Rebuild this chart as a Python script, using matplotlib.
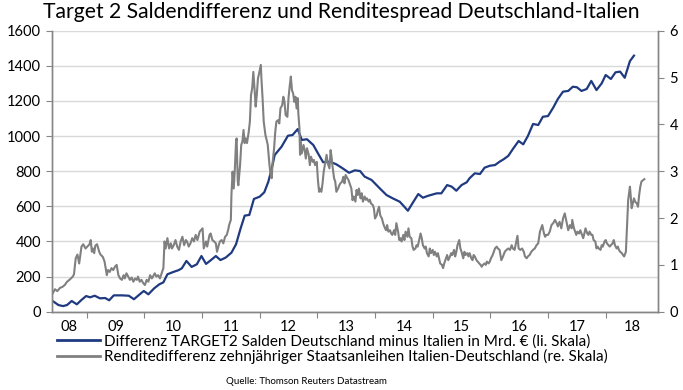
import matplotlib
matplotlib.use("Agg")
import matplotlib.pyplot as plt
from matplotlib.lines import Line2D

plt.rcParams['font.family'] = ['Lato', 'DejaVu Sans']

# TARGET2 balance difference Germany minus Italy, bn EUR (left axis)
t2_dates = [
    2008.41, 2008.51, 2008.59, 2008.66, 2008.74, 2008.83, 2008.91, 2008.99,
    2009.06, 2009.14, 2009.23, 2009.32, 2009.39, 2009.47, 2009.61, 2009.73, 2009.82, 2009.92, 2009.99,
    2010.07, 2010.17, 2010.26, 2010.33, 2010.40, 2010.50, 2010.59, 2010.65, 2010.73, 2010.82, 2010.91, 2010.99,
    2011.07, 2011.14, 2011.24, 2011.32, 2011.41, 2011.51, 2011.59, 2011.67, 2011.74, 2011.82, 2011.90,
    2012.00, 2012.08, 2012.15, 2012.21, 2012.26, 2012.38, 2012.49, 2012.57, 2012.66, 2012.73, 2012.82, 2012.93,
    2013.01, 2013.10, 2013.22, 2013.33, 2013.44, 2013.55, 2013.65, 2013.74, 2013.82, 2013.94,
    2014.08, 2014.20, 2014.31, 2014.43, 2014.57, 2014.66, 2014.75, 2014.83, 2014.92,
    2015.07, 2015.15, 2015.25, 2015.33, 2015.41, 2015.50, 2015.59, 2015.64, 2015.73, 2015.82, 2015.90, 2015.99,
    2016.08, 2016.16, 2016.23, 2016.31, 2016.39, 2016.49, 2016.57, 2016.65, 2016.74, 2016.83, 2016.91,
    2017.00, 2017.09, 2017.17, 2017.26, 2017.35, 2017.43, 2017.50, 2017.58, 2017.67, 2017.75, 2017.84, 2017.93,
    2018.00, 2018.09, 2018.17, 2018.25, 2018.33, 2018.42, 2018.49,
]
t2_values = [
    61, 38, 32, 38, 61, 42, 67, 89,
    82, 91, 76, 78, 65, 93, 93, 91, 71, 99, 118,
    99, 133, 156, 167, 213, 226, 236, 247, 289, 255, 270, 317,
    272, 290, 317, 294, 308, 336, 384, 475, 547, 551, 642,
    655, 680, 740, 816, 892, 940, 1002, 1006, 1040, 978, 982, 949,
    902, 851, 854, 839, 816, 791, 805, 801, 769, 750,
    703, 664, 645, 626, 575, 623, 670, 649, 660,
    674, 674, 721, 712, 689, 721, 737, 760, 788, 784, 820, 831,
    835, 854, 868, 887, 926, 972, 953, 1000, 1069, 1063, 1110,
    1114, 1162, 1211, 1253, 1257, 1281, 1278, 1257, 1268, 1314, 1262, 1300,
    1348, 1325, 1363, 1367, 1332, 1427, 1458,
]

# 10y yield spread Italy - Germany, pct points (right axis)
spread_2008 = [
    (2008.41, 0.39), (2008.45, 0.48), (2008.49, 0.44), (2008.54, 0.51), (2008.58, 0.53),
    (2008.62, 0.57), (2008.66, 0.64), (2008.71, 0.69), (2008.76, 0.75), (2008.78, 0.80),
    (2008.81, 1.14), (2008.84, 1.22), (2008.87, 1.03), (2008.91, 1.39), (2008.94, 1.44),
    (2008.98, 1.35),
]
spread_2009 = [
    (2009.01, 1.39), (2009.05, 1.44), (2009.07, 1.53), (2009.09, 1.28), (2009.11, 1.35),
    (2009.13, 1.25), (2009.15, 1.41), (2009.18, 1.44), (2009.22, 1.27), (2009.24, 1.22),
    (2009.28, 1.17), (2009.31, 1.07), (2009.33, 0.93), (2009.35, 0.78), (2009.37, 0.89),
    (2009.40, 0.85), (2009.43, 0.93), (2009.46, 0.89), (2009.49, 0.96), (2009.52, 1.00),
    (2009.55, 0.78), (2009.58, 0.71), (2009.61, 0.68), (2009.64, 0.78), (2009.66, 0.71),
    (2009.69, 0.82), (2009.72, 0.75), (2009.75, 0.68), (2009.78, 0.73), (2009.81, 0.64),
    (2009.84, 0.71), (2009.87, 0.68), (2009.89, 0.75), (2009.92, 0.64), (2009.95, 0.68),
    (2009.98, 0.61),
]
spread_2010 = [
    (2010.01, 0.57), (2010.04, 0.68), (2010.07, 0.64), (2010.10, 0.78), (2010.13, 0.71),
    (2010.15, 0.75), (2010.18, 0.82), (2010.21, 0.75), (2010.24, 0.78), (2010.27, 0.71),
    (2010.30, 0.82), (2010.33, 0.93), (2010.35, 1.50), (2010.37, 1.35), (2010.40, 1.57),
    (2010.43, 1.35), (2010.46, 1.46), (2010.48, 1.35), (2010.51, 1.42), (2010.54, 1.53),
    (2010.57, 1.39), (2010.60, 1.32), (2010.63, 1.50), (2010.66, 1.60), (2010.69, 1.42),
    (2010.72, 1.53), (2010.74, 1.50), (2010.77, 1.39), (2010.80, 1.46), (2010.83, 1.57),
    (2010.86, 1.50), (2010.89, 1.64), (2010.92, 1.53), (2010.96, 1.71),
]
spread_2011 = [
    (2011.01, 1.78), (2011.03, 1.35), (2011.07, 1.50), (2011.09, 1.39), (2011.13, 1.64),
    (2011.15, 1.67), (2011.18, 1.53), (2011.21, 1.50), (2011.24, 1.46), (2011.26, 1.28),
    (2011.29, 1.42), (2011.31, 1.50), (2011.34, 1.53), (2011.37, 1.46), (2011.40, 1.60),
    (2011.43, 1.64), (2011.46, 1.78), (2011.47, 1.85), (2011.50, 1.96), (2011.51, 2.49),
    (2011.53, 2.99), (2011.55, 2.63), (2011.57, 3.06), (2011.59, 3.63), (2011.60, 3.70),
    (2011.62, 2.78), (2011.63, 2.70), (2011.66, 3.13), (2011.68, 3.56), (2011.70, 3.63),
    (2011.72, 3.88), (2011.74, 3.60), (2011.76, 3.70), (2011.78, 3.60), (2011.81, 3.84),
    (2011.83, 4.06), (2011.85, 4.63), (2011.87, 4.77), (2011.89, 5.12), (2011.91, 4.77),
    (2011.93, 4.38), (2011.95, 4.63), (2011.97, 4.98), (2011.99, 5.09),
]
spread_2012 = [
    (2012.02, 5.27), (2012.03, 4.98), (2012.05, 4.56), (2012.07, 4.06), (2012.10, 3.77),
    (2012.12, 3.67), (2012.14, 3.56), (2012.17, 3.13), (2012.19, 2.92), (2012.21, 2.85),
    (2012.22, 3.13), (2012.25, 3.49), (2012.27, 3.84), (2012.29, 4.06), (2012.32, 4.09),
    (2012.34, 4.02), (2012.36, 4.34), (2012.39, 4.41), (2012.41, 4.59), (2012.43, 4.48),
    (2012.45, 4.20), (2012.48, 4.16), (2012.50, 4.56), (2012.52, 4.81), (2012.54, 5.02),
    (2012.56, 4.73), (2012.58, 4.66), (2012.60, 4.48), (2012.62, 4.59), (2012.64, 4.34),
    (2012.66, 4.56), (2012.67, 4.24), (2012.69, 3.91), (2012.70, 3.35), (2012.71, 3.63),
    (2012.73, 3.38), (2012.76, 3.56), (2012.78, 3.45), (2012.80, 3.27), (2012.82, 3.49),
    (2012.85, 3.35), (2012.87, 3.13), (2012.89, 3.31), (2012.92, 3.20), (2012.94, 3.24),
    (2012.96, 3.13), (2012.99, 3.20),
]
spread_2013 = [
    (2013.01, 2.81), (2013.03, 2.56), (2013.04, 2.63), (2013.07, 2.56), (2013.09, 2.74),
    (2013.11, 2.99), (2013.14, 3.20), (2013.16, 3.35), (2013.18, 3.17), (2013.21, 3.06),
    (2013.23, 3.45), (2013.25, 3.27), (2013.26, 3.13), (2013.29, 2.85), (2013.31, 2.78),
    (2013.33, 2.56), (2013.36, 2.63), (2013.38, 2.70), (2013.40, 2.74), (2013.43, 2.78),
    (2013.45, 2.88), (2013.47, 2.74), (2013.49, 2.92), (2013.52, 2.85), (2013.54, 2.81),
    (2013.56, 2.74), (2013.59, 2.63), (2013.61, 2.38), (2013.63, 2.46), (2013.66, 2.35),
    (2013.68, 2.60), (2013.70, 2.49), (2013.72, 2.63), (2013.75, 2.42), (2013.77, 2.53),
    (2013.79, 2.35), (2013.82, 2.46), (2013.84, 2.39), (2013.86, 2.42), (2013.89, 2.35),
    (2013.91, 2.39), (2013.93, 2.31), (2013.96, 2.28), (2013.98, 2.21),
]
spread_2014 = [
    (2014.00, 1.99), (2014.03, 2.06), (2014.05, 2.17), (2014.07, 2.24), (2014.09, 2.06),
    (2014.12, 1.99), (2014.14, 1.89), (2014.16, 1.82), (2014.19, 1.74), (2014.21, 1.85),
    (2014.23, 1.71), (2014.26, 1.74), (2014.28, 1.67), (2014.30, 1.64), (2014.33, 1.74),
    (2014.35, 1.64), (2014.37, 1.89), (2014.40, 1.71), (2014.42, 1.53), (2014.44, 1.57),
    (2014.46, 1.50), (2014.49, 1.64), (2014.51, 1.53), (2014.53, 1.71), (2014.56, 1.60),
    (2014.58, 1.78), (2014.60, 1.60), (2014.63, 1.57), (2014.65, 1.39), (2014.67, 1.32),
    (2014.70, 1.35), (2014.72, 1.42), (2014.74, 1.39), (2014.76, 1.50), (2014.79, 1.67),
    (2014.81, 1.57), (2014.83, 1.42), (2014.86, 1.35), (2014.88, 1.39), (2014.90, 1.25),
    (2014.93, 1.18), (2014.95, 1.35), (2014.97, 1.25),
]
spread_2015 = [
    (2015.00, 1.32), (2015.02, 1.21), (2015.04, 1.28), (2015.07, 1.18), (2015.09, 1.25),
    (2015.11, 1.14), (2015.13, 1.03), (2015.16, 1.00), (2015.18, 0.93), (2015.20, 1.03),
    (2015.23, 1.14), (2015.25, 1.21), (2015.27, 1.10), (2015.30, 1.18), (2015.32, 1.25),
    (2015.34, 1.21), (2015.37, 1.32), (2015.39, 1.18), (2015.41, 1.28), (2015.43, 1.42),
    (2015.46, 1.53), (2015.48, 1.35), (2015.50, 1.28), (2015.53, 1.14), (2015.55, 1.28),
    (2015.57, 1.21), (2015.60, 1.25), (2015.62, 1.18), (2015.64, 1.25), (2015.67, 1.14),
    (2015.69, 1.10), (2015.71, 1.21), (2015.73, 1.18), (2015.76, 1.10), (2015.78, 1.07),
    (2015.81, 1.03), (2015.83, 1.00), (2015.85, 0.96), (2015.87, 1.00), (2015.90, 1.03),
    (2015.92, 1.00), (2015.94, 1.07), (2015.97, 1.03), (2015.99, 1.07),
]
spread_2016 = [
    (2016.01, 1.14), (2016.04, 1.21), (2016.06, 1.28), (2016.08, 1.35), (2016.11, 1.39),
    (2016.13, 1.35), (2016.16, 1.32), (2016.19, 1.10), (2016.22, 1.18), (2016.25, 1.28),
    (2016.28, 1.32), (2016.31, 1.35), (2016.34, 1.32), (2016.37, 1.42), (2016.39, 1.35),
    (2016.42, 1.32), (2016.45, 1.50), (2016.47, 1.62), (2016.49, 1.35), (2016.52, 1.32),
    (2016.55, 1.35), (2016.58, 1.28), (2016.60, 1.18), (2016.63, 1.14), (2016.65, 1.18),
    (2016.68, 1.21), (2016.71, 1.28), (2016.74, 1.32), (2016.77, 1.35), (2016.80, 1.42),
    (2016.83, 1.46), (2016.86, 1.71), (2016.89, 1.82), (2016.90, 1.85), (2016.93, 1.67),
    (2016.95, 1.60), (2016.97, 1.64),
]
spread_2017 = [
    (2017.00, 1.64), (2017.03, 1.71), (2017.06, 1.85), (2017.09, 1.89), (2017.12, 1.96),
    (2017.15, 1.89), (2017.17, 1.82), (2017.20, 1.92), (2017.23, 1.78), (2017.26, 1.99),
    (2017.29, 2.10), (2017.32, 1.92), (2017.35, 1.74), (2017.38, 1.85), (2017.41, 1.78),
    (2017.42, 1.96), (2017.45, 1.78), (2017.47, 1.71), (2017.49, 1.64), (2017.51, 1.71),
    (2017.54, 1.67), (2017.56, 1.74), (2017.58, 1.67), (2017.61, 1.57), (2017.63, 1.67),
    (2017.65, 1.78), (2017.68, 1.67), (2017.70, 1.64), (2017.72, 1.71), (2017.75, 1.64),
    (2017.77, 1.64), (2017.79, 1.53), (2017.82, 1.50), (2017.84, 1.35), (2017.86, 1.39),
    (2017.88, 1.35), (2017.91, 1.32), (2017.93, 1.42), (2017.95, 1.39), (2017.98, 1.50),
]
spread_2018 = [
    (2018.00, 1.53), (2018.02, 1.46), (2018.05, 1.42), (2018.07, 1.39), (2018.09, 1.42),
    (2018.12, 1.46), (2018.14, 1.53), (2018.16, 1.42), (2018.19, 1.35), (2018.21, 1.39),
    (2018.23, 1.32), (2018.25, 1.28), (2018.28, 1.25), (2018.30, 1.21), (2018.32, 1.18),
    (2018.35, 1.28), (2018.37, 1.82), (2018.39, 2.39), (2018.42, 2.67), (2018.43, 2.53),
    (2018.45, 2.21), (2018.47, 2.31), (2018.49, 2.42), (2018.51, 2.35), (2018.54, 2.31),
    (2018.56, 2.24), (2018.58, 2.49), (2018.60, 2.67), (2018.62, 2.78), (2018.65, 2.81),
    (2018.67, 2.83),
]

year_labels = ["08", "09", "10", "11", "12", "13", "14", "15", "16", "17", "18"]
left_ticks = [0, 200, 400, 600, 800, 1000, 1200, 1400, 1600]
right_ticks = [0, 1, 2, 3, 4, 5, 6]

title = "Target 2 Saldendifferenz und Renditespread Deutschland-Italien"
label_t2 = "Differenz TARGET2 Salden Deutschland minus Italien in Mrd. € (li. Skala)"
label_spread = "Renditedifferenz zehnjähriger Staatsanleihen Italien-Deutschland (re. Skala)"
source = "Quelle: Thomson Reuters Datastream"

BLUE = "#1F3A80"
GRAY = "#808080"
AXIS = "#868686"
GRID = "#D9D9D9"

spread = (spread_2008 + spread_2009 + spread_2010 + spread_2011 + spread_2012 + spread_2013
          + spread_2014 + spread_2015 + spread_2016 + spread_2017 + spread_2018)
spread_dates = [d for d, v in spread]
spread_values = [v for d, v in spread]

fig = plt.figure(figsize=(6.83, 3.9), dpi=100)
ax = fig.add_axes([52.3 / 683, 1 - 311.7 / 390, (658.3 - 52.3) / 683, (311.7 - 30.7) / 390])
ax2 = ax.twinx()

ax.plot(t2_dates, t2_values, color=BLUE, lw=1.6, solid_joinstyle="round")
ax2.plot(spread_dates, spread_values, color=GRAY, lw=1.5, solid_joinstyle="round")

x_start, x_end = 2008.404, 2018.912
ax.set_xlim(x_start, x_end)
ax.set_ylim(0, 1600)
ax2.set_ylim(0, 6)
ax.set_yticks(left_ticks)
ax2.set_yticks(right_ticks)
ax.yaxis.grid(True, color=GRID, lw=1)
ax.set_axisbelow(True)

# year boundaries as ticks, labels centred on the visible part of each year
years = list(range(2008, 2019))
ax.set_xticks(years[1:])
ax.set_xticklabels([])
mids = [(max(y, x_start) + min(y + 1, x_end)) / 2 for y in years]
ax.set_xticks(mids, minor=True)
ax.set_xticklabels(year_labels, minor=True)
ax.tick_params(axis="x", which="minor", length=0, pad=6, labelsize=10.5, colors="black")
ax.tick_params(axis="x", which="major", length=4, direction="out", color=AXIS)
ax.tick_params(axis="y", length=4, color=AXIS, labelsize=10.5, pad=4)
ax2.tick_params(axis="y", length=4, color=AXIS, labelsize=10.5, pad=4)

for a in (ax, ax2):
    a.spines["top"].set_visible(False)
    for s in ("left", "right", "bottom"):
        a.spines[s].set_color(AXIS)
        a.spines[s].set_linewidth(1)

fig.text(0.5, 1 - 12 / 390, title, ha="center", va="center", fontsize=15.2)

handles = [Line2D([], [], color=BLUE, lw=2), Line2D([], [], color=GRAY, lw=2)]
fig.legend(handles, [label_t2, label_spread], loc="upper left",
           bbox_to_anchor=(57 / 683, 1 - 334 / 390), frameon=False, fontsize=11,
           handlelength=2.8, handletextpad=0.3, labelspacing=0.05, borderpad=0, borderaxespad=0)

fig.text(306 / 683, 1 - 381 / 390, source, ha="center", va="center", fontsize=7)

fig.savefig("out.png", dpi=100)
